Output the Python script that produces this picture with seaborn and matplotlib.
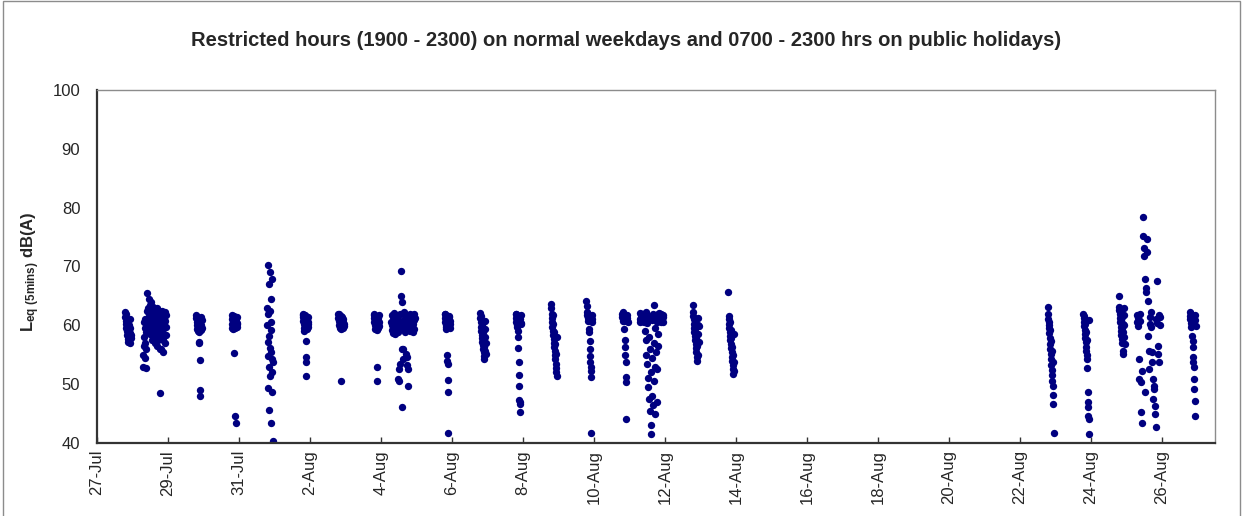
import pandas as pd
import matplotlib
matplotlib.use("Agg")
import matplotlib.pyplot as plt
import seaborn as sns
from matplotlib.patches import Rectangle

# Leq(5min) readings in dB(A), restricted hours only
# evenings 1900-2300, Sundays / public holidays 0700-2300
jul27 = [62.2, 61.5, 60.8, 61.9, 60.2, 59.6, 60.5, 59.0, 58.4, 59.8, 58.9, 57.6,
         58.2, 57.2, 59.3, 58.0, 57.5, 60.0, 58.7, 57.0, 59.5, 61.0, 58.3, 57.8]
jul28 = [55.0, 53.0, 56.5, 58.0, 60.5, 54.5, 57.0, 59.5, 61.0, 52.8, 56.0, 58.8,
         60.0, 62.5, 65.5, 61.0, 63.0, 59.0, 64.5, 60.5, 62.0, 58.5, 63.5, 61.5,
         59.8, 62.8, 64.0, 60.8, 57.5, 61.8, 63.2, 59.3, 60.2, 62.2, 58.0, 61.2,
         59.0, 60.5, 57.0, 62.0, 58.5, 61.0, 56.5, 60.0, 63.0, 57.5, 59.5, 61.5,
         58.0, 60.5, 62.5, 56.0, 48.5, 59.2,
         59.0, 56.0, 61.5, 58.0, 60.0, 62.5, 57.5, 55.5, 59.5, 61.0, 58.5, 60.0,
         62.3, 57.0, 60.8, 58.3, 61.8, 59.7]
jul29 = [61.8, 61.2, 60.5, 61.5, 60.0, 59.4, 60.8, 59.0, 61.0, 59.8, 60.3, 58.9,
         57.1, 57.0, 54.1, 49.0, 48.0, 60.6, 59.6, 61.4, 60.1, 59.2, 60.9, 59.5]
jul30 = [61.8, 61.0, 60.3, 59.6, 61.4, 60.0, 59.4, 60.8, 61.6, 59.8, 60.5, 55.3,
         61.2, 59.5, 60.1, 44.6, 43.4, 60.7, 59.9, 61.0, 60.4, 59.7, 61.5, 60.2]
jul31 = [60.0, 63.0, 54.8, 70.2, 57.1, 49.4, 61.9, 53.0, 67.0, 58.2, 45.6, 62.5, 56.2,
         69.0, 51.4, 60.5, 64.4, 43.4, 55.4, 59.2, 67.8, 48.6, 54.2, 52.0, 53.7, 40.3]
aug01 = [62.0, 61.4, 60.8, 61.7, 60.2, 59.5, 61.0, 59.1, 60.5, 61.8, 59.8, 57.3,
         54.7, 53.7, 51.4, 60.0, 61.2, 59.3, 60.6, 59.7, 61.5, 60.3]
aug02 = [61.9, 61.3, 60.7, 62.0, 60.1, 59.5, 61.0, 59.8, 60.4, 61.6, 59.3, 50.5,
         60.9, 60.0, 61.4, 59.6, 60.6, 61.1, 59.9, 60.3]
aug03 = [61.8, 61.2, 60.6, 61.9, 60.0, 59.4, 61.0, 59.7, 60.3, 61.5, 59.2, 53.0,
         50.5, 60.8, 60.1, 61.3, 59.6, 60.5, 61.7, 59.9]
aug04 = [60.6, 59.2, 61.7, 60.1, 58.7, 61.4, 62.1, 59.6,
         59.8, 61.2, 60.4, 58.6, 61.8, 60.0, 59.3, 61.5, 60.7, 58.9, 61.0, 50.8,
         50.5, 52.5, 53.4, 60.3, 61.9, 69.3, 59.7, 65.0, 63.9, 55.9, 46.1, 55.9,
         54.3, 60.8, 62.2, 59.4, 61.3, 60.1, 58.8, 55.2, 61.7, 54.7, 53.2, 60.5,
         52.6, 49.7, 59.6, 61.4, 60.2, 62.0, 59.1, 60.9, 61.6, 59.5, 60.6, 61.1,
         59.9, 61.6, 60.3, 58.8, 62.0, 60.9, 59.4, 61.3]
aug05 = [61.9, 61.3, 60.6, 62.0, 60.0, 59.4, 61.1, 59.7, 60.4, 54.9, 53.9, 53.4,
         50.7, 48.6, 41.7, 61.6, 60.8, 59.9, 61.4, 60.2, 59.5, 60.7]
aug06 = [62.1, 61.2, 60.5, 59.8, 61.6, 59.0, 58.4, 60.1, 57.8, 57.2, 58.9, 56.6,
         56.0, 57.5, 55.4, 54.8, 56.3, 54.2, 55.7, 58.1, 59.4, 60.8, 57.0, 55.1]
aug07 = [61.9, 61.3, 60.6, 62.0, 60.1, 61.5, 59.8, 60.9, 59.0, 58.0, 56.2, 53.8,
         51.6, 49.7, 47.3, 47.0, 46.6, 45.2, 61.1, 60.4, 61.7, 60.2]
aug08 = [63.6, 62.9, 62.0, 61.3, 60.5, 59.8, 61.8, 59.1, 58.4, 60.2, 57.7, 57.0,
         56.3, 58.8, 55.6, 54.9, 56.8, 54.2, 53.5, 52.8, 55.2, 52.1, 51.4, 58.0]
aug09 = [64.1, 63.3, 62.2, 61.7, 61.2, 60.7, 62.0, 61.4, 60.9, 59.3, 58.8, 57.3,
         55.9, 54.8, 53.7, 53.0, 52.2, 51.2, 41.7, 61.8, 60.5, 61.0]
aug10 = [62.0, 61.4, 60.8, 62.2, 61.0, 60.7, 61.6, 59.3, 57.5, 56.3, 55.0, 53.7,
         51.2, 50.3, 44.1, 61.2, 60.9, 61.8, 60.5]
aug11 = [61.0, 62.1, 60.6, 61.7, 60.9, 61.4, 62.0, 60.7,
         61.5, 60.8, 62.0, 61.2, 60.6, 61.8, 59.0, 61.0, 57.5, 62.2, 55.0, 60.4,
         53.5, 61.6, 51.0, 49.5, 58.0, 47.5, 61.3, 45.5, 56.0, 43.0, 52.0, 41.5,
         60.9, 54.5, 48.0, 62.0, 46.5, 57.0, 63.4, 50.5, 59.5, 45.0, 53.0, 61.5,
         55.5, 47.0, 60.5, 52.5, 61.9, 56.5, 58.5, 61.2, 62.1, 60.7, 61.5, 60.9,
         61.3, 60.5, 62.0, 61.1, 60.8, 61.7, 60.6, 61.4]
aug12 = [63.4, 62.3, 61.6, 61.0, 60.3, 59.6, 58.9, 60.8, 58.2, 57.5, 59.3, 56.8,
         56.1, 57.9, 55.4, 54.7, 56.5, 53.9, 55.0, 60.0, 61.3, 58.6, 57.2, 59.9]
aug13 = [65.6, 61.6, 61.0, 60.3, 59.6, 58.9, 60.6, 58.2, 57.5, 59.2, 56.8, 56.1,
         57.8, 55.4, 54.7, 56.4, 54.0, 53.3, 52.5, 51.8, 55.0, 58.5, 53.7, 52.2]
aug22 = [63.2, 61.9, 61.0, 60.5, 59.6, 58.7, 60.1, 57.8, 56.9, 59.2, 56.0, 55.1,
         57.3, 54.2, 53.3, 55.6, 52.4, 51.5, 50.6, 53.8, 49.7, 48.1, 46.6, 41.7]
aug23 = [61.9, 61.3, 60.6, 59.9, 61.6, 59.2, 58.5, 60.3, 57.8, 57.1, 58.9, 56.4,
         55.7, 57.5, 55.0, 54.2, 52.7, 48.6, 46.9, 46.1, 44.6, 44.1, 41.5, 60.9]
aug24 = [65.0, 63.2, 62.6, 61.9, 61.2, 60.5, 62.2, 59.8, 59.1, 60.9, 58.4, 57.7,
         59.5, 57.0, 61.5, 60.2, 58.8, 55.6, 55.1, 62.9, 61.7, 60.0, 58.1, 56.8]
aug25 = [60.5, 61.8, 59.9, 61.2, 54.2, 50.8, 62.0, 60.8, 50.3, 45.3, 43.4, 52.2,
         78.4, 75.1, 73.2, 71.7, 67.8, 48.6, 66.4, 65.6, 74.7, 72.4, 64.1, 58.2,
         55.6, 52.5, 61.5, 60.2, 62.2, 59.7, 55.4, 53.7, 50.8, 47.5, 49.7, 49.2,
         46.3, 45.0, 42.7, 61.0, 60.4, 67.5, 56.5, 55.1, 53.7, 61.7, 60.1, 61.4]
aug26 = [62.2, 61.6, 61.0, 60.4, 59.8, 62.0, 60.7, 61.3, 60.1, 58.2, 57.3, 56.3,
         54.6, 53.7, 52.9, 50.8, 49.2, 47.2, 44.6, 61.8, 60.9, 59.9]

sessions = [
    ("2013-07-27", "evening", jul27), ("2013-07-28", "holiday", jul28),
    ("2013-07-29", "evening", jul29), ("2013-07-30", "evening", jul30),
    ("2013-07-31", "evening", jul31), ("2013-08-01", "evening", aug01),
    ("2013-08-02", "evening", aug02), ("2013-08-03", "evening", aug03),
    ("2013-08-04", "holiday", aug04), ("2013-08-05", "evening", aug05),
    ("2013-08-06", "evening", aug06), ("2013-08-07", "evening", aug07),
    ("2013-08-08", "evening", aug08), ("2013-08-09", "evening", aug09),
    ("2013-08-10", "evening", aug10), ("2013-08-11", "holiday", aug11),
    ("2013-08-12", "evening", aug12), ("2013-08-13", "evening", aug13),
    ("2013-08-22", "evening", aug22), ("2013-08-23", "evening", aug23),
    ("2013-08-24", "evening", aug24), ("2013-08-25", "holiday", aug25),
    ("2013-08-26", "evening", aug26),
]

rows = []
for day, kind, vals in sessions:
    d = pd.Timestamp(day)
    start = d + pd.Timedelta(hours=19 if kind == "evening" else 7)
    end = d + pd.Timedelta(hours=22, minutes=55)
    times = pd.date_range(start, end, periods=len(vals))
    rows += list(zip(times, vals))
df = pd.DataFrame(rows, columns=["time", "leq"])

sns.set_theme(style="white")
plt.rcParams["font.family"] = ["Liberation Sans", "DejaVu Sans"]
plt.rcParams["mathtext.fontset"] = "custom"
plt.rcParams["mathtext.rm"] = "Liberation Sans"
plt.rcParams["mathtext.bf"] = "Liberation Sans:bold"

W, H = 1243, 516
fig = plt.figure(figsize=(W / 100, H / 100), dpi=100)
ax = fig.add_axes([97 / W, 1 - 443 / H, (1215 - 97) / W, (443 - 90) / H])

sns.scatterplot(data=df, x="time", y="leq", color="#000080", s=28,
                linewidth=0, ax=ax)

ax.set_xlim(pd.Timestamp("2013-07-27"), pd.Timestamp("2013-08-27 12:00"))
ax.set_ylim(40, 100)
ax.set_yticks(range(40, 101, 10))

xticks = pd.date_range("2013-07-27", "2013-08-26", freq="2D")
ax.set_xticks(xticks)
ax.set_xticklabels([f"{t.day}-{t.strftime('%b')}" for t in xticks],
                   rotation=90, fontsize=12)
ax.tick_params(axis="y", labelsize=12, length=0, pad=12)
ax.tick_params(axis="x", direction="in", length=4, width=1, color="#333333",
               bottom=True, pad=5)
ax.set_xlabel("")
ax.set_ylabel("")

for side in ["left", "bottom"]:
    ax.spines[side].set_color("#333333")
    ax.spines[side].set_linewidth(1.6)
for side in ["top", "right"]:
    ax.spines[side].set_color("#8c8c8c")
    ax.spines[side].set_linewidth(1.0)

fig.text(626 / W, 1 - 40 / H,
         "Restricted hours (1900 - 2300) on normal weekdays and 0700 - 2300 hrs on public holidays)",
         ha="center", va="center", fontsize=14.5, fontweight="bold")
fig.text(31 / W, 1 - 272 / H, r"$\mathbf{L_{eq\ (5mins)}}$ dB(A)",
         rotation=90, ha="center", va="center", fontsize=12, fontweight="bold")

fig.patches.append(Rectangle((3 / W, -0.1), (1240 - 3) / W, 1.1 - 1 / H,
                             transform=fig.transFigure, fill=False,
                             edgecolor="#8c8c8c", linewidth=1.0))

fig.savefig("out.png", dpi=100)
